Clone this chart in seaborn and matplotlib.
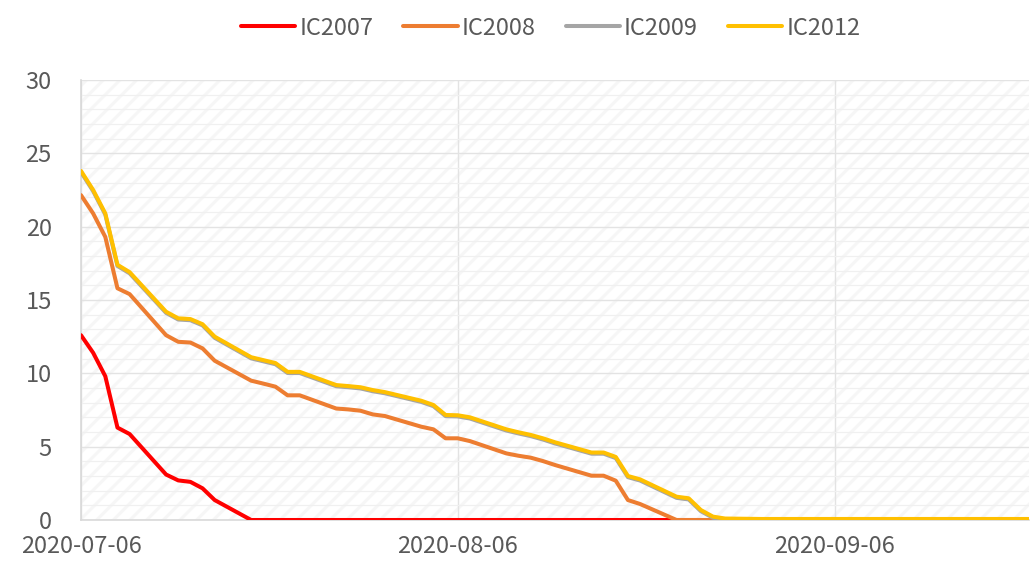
import numpy as np
import pandas as pd
import seaborn as sns
import matplotlib
matplotlib.use('Agg')
import matplotlib.pyplot as plt
import matplotlib.dates as mdates
from matplotlib.patches import Rectangle

# trading days shown on the chart
DATES = pd.bdate_range('2020-07-06', '2020-09-22')

IC2007 = [12.6, 11.4, 9.8, 6.3, 5.86,
          3.1, 2.7, 2.6, 2.16, 1.36] + [0.0] * 47

IC2008 = [22.15, 20.9, 19.3, 15.8, 15.4,
          12.6, 12.15, 12.1, 11.7, 10.86,
          9.5, 9.3, 9.09, 8.5, 8.5,
          7.6, 7.54, 7.45, 7.2, 7.09,
          6.36, 6.18, 5.57, 5.57, 5.38,
          4.54, 4.38, 4.25, 4.02, 3.75,
          3.02, 3.02, 2.68, 1.36, 1.09] + [0.0] * 22

IC2009 = [23.72, 22.42, 20.82, 17.32, 16.82,
          14.12, 13.67, 13.62, 13.27, 12.42,
          11.02, 10.82, 10.62, 10.02, 10.02,
          9.12, 9.05, 8.97, 8.78, 8.64,
          8.05, 7.76, 7.08, 7.06, 6.92,
          6.10, 5.90, 5.72, 5.49, 5.22,
          4.52, 4.52, 4.22, 2.92, 2.69,
          1.51, 1.40, 0.60, 0.15, 0.03] + [0.01] * 17

IC2012 = [23.8, 22.5, 20.9, 17.4, 16.9,
          14.2, 13.75, 13.7, 13.35, 12.5,
          11.1, 10.9, 10.7, 10.1, 10.1,
          9.2, 9.13, 9.05, 8.86, 8.72,
          8.13, 7.84, 7.16, 7.14, 7.0,
          6.18, 5.98, 5.8, 5.57, 5.3,
          4.6, 4.6, 4.3, 3.0, 2.77,
          1.59, 1.48, 0.68, 0.23, 0.1] + [0.07] * 17

SERIES = ['IC2007', 'IC2008', 'IC2009', 'IC2012']
COLORS = ['#FF0000', '#ED7D31', '#A5A5A5', '#FFC000']

df = pd.DataFrame({'date': DATES, 'IC2007': IC2007, 'IC2008': IC2008,
                   'IC2009': IC2009, 'IC2012': IC2012})
long_df = df.melt(id_vars='date', var_name='contract', value_name='value')

sns.set_style('white')
plt.rcParams['font.family'] = ['Noto Sans CJK SC', 'DejaVu Sans']
plt.rcParams['hatch.linewidth'] = 2.2
plt.rcParams['hatch.color'] = '#f6f6f6'

fig = plt.figure(figsize=(10.35, 5.76), dpi=100)
ax = fig.add_axes([81 / 1035, 1 - 520 / 576, 948 / 1035, 440 / 576])

# hatched plot background
ax.add_patch(Rectangle((0, 0), 1, 1, transform=ax.transAxes, facecolor='white',
                       edgecolor='#f6f6f6', hatch='//', linewidth=0, zorder=0))

sns.lineplot(data=long_df, x='date', y='value', hue='contract',
             hue_order=SERIES, palette=COLORS, linewidth=2.9, ax=ax,
             zorder=3)
for ln in ax.get_lines():
    ln.set_solid_capstyle('round')
    ln.set_solid_joinstyle('round')

ax.set_xlim(pd.Timestamp('2020-07-06'), pd.Timestamp('2020-09-22'))
ax.set_ylim(0, 30)
ax.set_yticks(np.arange(0, 31, 5))
ax.set_yticks(np.arange(0, 31, 1), minor=True)
ax.xaxis.set_major_locator(mdates.DayLocator(bymonthday=6))
ax.xaxis.set_major_formatter(mdates.DateFormatter('%Y-%m-%d'))

ax.grid(which='major', color='#e3e3e3', linewidth=1.0, zorder=1)
ax.grid(which='minor', axis='y', color='#f0f0f0', linewidth=0.9, zorder=1)
ax.set_axisbelow(True)

ax.tick_params(axis='both', which='both', length=0, labelsize=17,
               labelcolor='#595959')
ax.tick_params(axis='y', pad=21)
ax.tick_params(axis='x', pad=11)
ax.set_xlabel('')
ax.set_ylabel('')

for side in ['top', 'right']:
    ax.spines[side].set_visible(False)
for side in ['left', 'bottom']:
    ax.spines[side].set_color('#d9d9d9')
    ax.spines[side].set_linewidth(1.2)

handles, labels = ax.get_legend_handles_labels()
ax.legend(handles, labels, loc='center', bbox_to_anchor=(0.532, 0.951),
          bbox_transform=fig.transFigure, ncol=4, frameon=False,
          fontsize=17, labelcolor='#595959', handlelength=2.3,
          handletextpad=0.17, columnspacing=1.27)

fig.savefig('out.png', dpi=100)
